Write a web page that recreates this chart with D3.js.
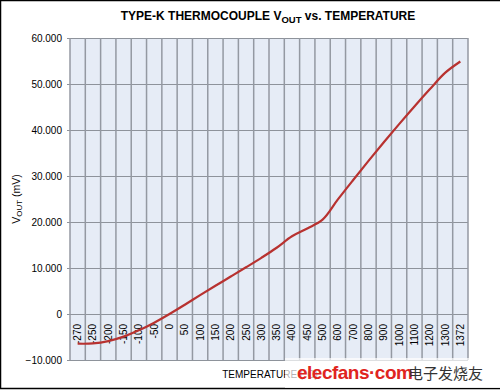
<!DOCTYPE html>
<html lang="en">
<head>
<meta charset="UTF-8" />
<script src="https://cdn.jsdelivr.net/npm/d3@7"></script>
<style>
  body { margin: 0; background: #fff; }
  svg { display: block; font-family: "Liberation Sans", Arial, sans-serif; }
</style>
</head>
<body>
<div id="chart"></div>
<script>
// temperature categories (deg C) and type-K output (mV)
var temps = ["-270", "-250", "-200", "-150", "-100", "-50", "0", "50", "100", "150", "200", "250",
  "300", "350", "400", "450", "500", "600", "700", "800", "900", "1000", "1100", "1200", "1300", "1372"];
var vout = [-6.458, -6.404, -5.891, -4.913, -3.554, -1.889, 0, 2.023, 4.096, 6.138, 8.138, 10.153,
  12.209, 14.4, 16.9, 18.6, 20.5, 24.905, 29.129, 33.275, 37.326, 41.276, 45.119, 48.838, 52.410, 54.886];
var yTicks = [-10, 0, 10, 20, 30, 40, 50, 60];

var W = 500, H = 390;
var margin = { top: 38, right: 32, bottom: 30, left: 70 };

var svg = d3.select("#chart").append("svg")
  .attr("width", W).attr("height", H);

// frame
svg.append("rect").attr("x", 0.5).attr("y", 0.5).attr("width", W + 5).attr("height", H - 2)
  .attr("fill", "#fff").attr("stroke", "#000").attr("stroke-width", 1.5);

var x = d3.scaleBand().domain(temps).range([margin.left, W - margin.right]).padding(0);
var y = d3.scaleLinear().domain([-10, 60]).range([H - margin.bottom, margin.top]);

// plot area
svg.append("rect")
  .attr("x", margin.left).attr("y", margin.top)
  .attr("width", x.range()[1] - margin.left)
  .attr("height", y(-10) - y(60))
  .attr("fill", "#e6ecf6");

// horizontal grid + y labels
var yAxis = svg.append("g")
  .attr("transform", "translate(" + margin.left + ",0)")
  .call(d3.axisLeft(y).tickValues(yTicks)
    .tickSize(-(x.range()[1] - margin.left))
    .tickFormat(function (d) { return d === 0 ? "0" : d3.format(".3f")(d); })
    .tickPadding(8));
yAxis.select(".domain").remove();
yAxis.selectAll(".tick line").attr("stroke", "#8e939b").attr("stroke-width", 1.2).attr("x1", -3);
yAxis.selectAll(".tick text").attr("font-size", 10).attr("fill", "#000");

// vertical grid on category boundaries
var edges = temps.map(function (t) { return x(t); }).concat([x.range()[1]]);
svg.append("g").selectAll("line")
  .data(edges)
  .enter().append("line")
  .attr("x1", function (d) { return d; }).attr("x2", function (d) { return d; })
  .attr("y1", y(60)).attr("y2", y(-10))
  .attr("stroke", "#9499a2").attr("stroke-width", 1.5);

// category labels, rotated, hung below the zero line
svg.append("g").selectAll("text")
  .data(temps)
  .enter().append("text")
  .attr("transform", function (d) {
    return "translate(" + (x(d) + x.bandwidth() / 2 + 3.5) + "," + (y(0) + 10) + ")rotate(-90)";
  })
  .attr("text-anchor", "end")
  .attr("font-size", 10)
  .attr("fill", "#000")
  .text(function (d) { return d; });

// curve
var pts = temps.map(function (t, i) { return { t: t, v: vout[i] }; });
var line = d3.line()
  .x(function (d) { return x(d.t) + x.bandwidth() / 2; })
  .y(function (d) { return y(d.v); })
  .curve(d3.curveCatmullRom);
svg.append("path")
  .datum(pts)
  .attr("d", line)
  .attr("fill", "none")
  .attr("stroke", "#b83230")
  .attr("stroke-width", 2.2);

// title
var title = svg.append("text")
  .attr("x", 268).attr("y", 20)
  .attr("text-anchor", "middle")
  .attr("font-size", 12).attr("font-weight", "bold");
title.append("tspan").text("TYPE-K THERMOCOUPLE V");
title.append("tspan").attr("font-size", 9.5).attr("dy", 3).text("OUT");
title.append("tspan").attr("dy", -3).text(" vs. TEMPERATURE");

// y title
var yt = svg.append("text")
  .attr("transform", "translate(20," + ((y(60) + y(-10)) / 2) + ")rotate(-90)")
  .attr("text-anchor", "middle")
  .attr("font-size", 10.5);
yt.append("tspan").text("V");
yt.append("tspan").attr("font-size", 8).attr("dy", 2).text("OUT");
yt.append("tspan").attr("dy", -2).text(" (mV)");

// x title
svg.append("text")
  .attr("x", 270).attr("y", 378)
  .attr("text-anchor", "middle")
  .attr("font-size", 10)
  .text("TEMPERATURE (\u00b0C)");

// watermark
svg.append("rect").attr("x", 285).attr("y", 358).attr("width", 215).attr("height", 30)
  .attr("fill", "#fff").attr("opacity", 0.7);
svg.append("text")
  .attr("x", 297).attr("y", 379)
  .attr("font-size", 19).attr("font-weight", "bold").attr("fill", "#e02420")
  .attr("letter-spacing", -0.5)
  .text("elecfans\u00b7com");
svg.append("text")
  .attr("x", 408).attr("y", 379)
  .attr("font-family", "Noto Sans CJK SC")
  .attr("font-size", 15).attr("fill", "#333")
  .text("电子发烧友");
</script>
</body>
</html>
